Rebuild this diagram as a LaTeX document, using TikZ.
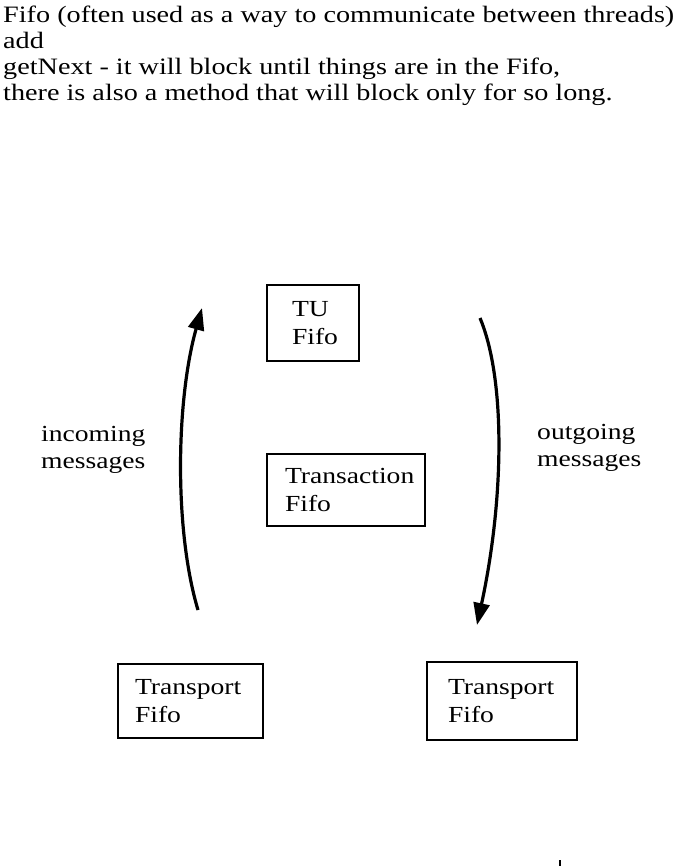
\documentclass[tikz,border=0pt]{standalone}
\usepackage{fontspec}
\setmainfont{Liberation Serif}[FakeStretch=1.2]
\usetikzlibrary{arrows.meta}

\tikzset{
  fifobox/.style={draw, line width=1.5pt, align=left, inner sep=0pt,
    font=\fontsize{23}{28}\selectfont},
  msglabel/.style={anchor=base west, align=left, inner sep=0pt,
    font=\fontsize{23}{27}\selectfont},
  flow/.style={line width=3.2pt, -{Triangle[length=22pt,width=16pt]}}
}

\begin{document}
\begin{tikzpicture}[x=1pt,y=-1pt]
    \useasboundingbox (0,0) rectangle (676,867);

    % 顶部说明文字 (base = 最后一行的基线)
    \node[anchor=base west, align=left, inner sep=0pt,
          font=\fontsize{23.5}{25.8}\selectfont] (header) at (3,100)
        {Fifo (often used as a way to communicate between threads)\\
         add\\
         getNext - it will block until things are in the Fifo,\\
         there is also a method that will block only for so long.};

    % 绘制各个 Fifo
    \node[fifobox, minimum width=92pt, minimum height=76pt, text width=42pt]
        (tu) at (313,323) {TU\\Fifo};
    \node[fifobox, minimum width=158pt, minimum height=72pt, text width=122pt]
        (trans) at (346,490) {Transaction\\Fifo};
    \node[fifobox, minimum width=145pt, minimum height=74pt, text width=111pt]
        (tpleft) at (190.5,701) {Transport\\Fifo};
    \node[fifobox, minimum width=150pt, minimum height=78pt, text width=108pt]
        (tpright) at (502,701) {Transport\\Fifo};

    % 绘制消息方向
    \coordinate (inS) at (198,610);
    \coordinate (inE) at (202,308);
    \coordinate (outS) at (480,318);
    \coordinate (outE) at (477,625);
    \draw[flow] (inS) .. controls (174,530) and (176,400) .. (inE);
    \draw[flow] (outS) .. controls (506,380) and (504,500) .. (outE);

    \node[msglabel] (incoming) at (41,468) {incoming\\messages};
    \node[msglabel] (outgoing) at (537,466) {outgoing\\messages};

    % 右下角的小记号
    \coordinate (tickA) at (560,860);
    \coordinate (tickB) at (560,866);
    \draw[line width=1.5pt] (tickA) -- (tickB);
\end{tikzpicture}
\end{document}
